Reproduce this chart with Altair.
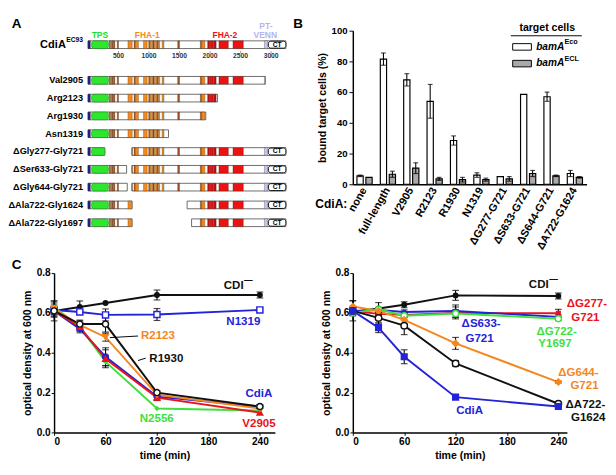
import altair as alt
import pandas as pd

FONT = "Liberation Sans, Arial, Helvetica, sans-serif"

# ================= Panel A : domain maps =================
a_names = ["CdiA", "Val2905", "Arg2123", "Arg1930", "Asn1319",
           "\u0394Gly277-Gly721", "\u0394Ser633-Gly721", "\u0394Gly644-Gly721",
           "\u0394Ala722-Gly1624", "\u0394Ala722-Gly1697"]
a_rows = [0, 2, 3, 4, 5, 6, 7, 8, 9, 10]
a_seg_start = [[1], [1], [1], [1], [1], [1, 721], [1, 721], [1, 721], [1, 1624], [1, 1697]]
a_seg_end = [[3242], [2905], [2123], [1930], [1319], [277, 3242], [633, 3242],
             [644, 3242], [722, 3242], [722, 3242]]

a_feat_start = [1, 60, 350, 372, 396, 420, 480, 655, 756, 780, 910, 995, 1018, 1066, 1088,
                1134, 1156, 1215, 1470, 1840, 1865, 1960, 2000, 2055, 2145, 2375, 2890]
a_feat_end = [40, 335, 366, 390, 414, 440, 500, 725, 775, 827, 970, 1012, 1060, 1082, 1128,
              1150, 1175, 1245, 1500, 1860, 1915, 1995, 2050, 2100, 2300, 2545, 2940]
a_feat_kind = ["navy", "green", "brown", "orange", "brown", "brown", "brown", "orange", "brown",
               "orange", "orange", "brown", "orange", "brown", "orange", "brown", "orange",
               "orange", "brown", "brown", "orange", "darkred", "red", "darkred", "red", "red",
               "lavender"]
a_palette = {"navy": "#1f1f8f", "green": "#2ee62e", "brown": "#a0501e", "orange": "#f28a1e",
             "darkred": "#b3121a", "red": "#ee1111", "lavender": "#c6c6f0"}
a_ct = [2955, 3242]

a_headers = ["TPS", "FHA-1", "FHA-2", "PT-", "VENN"]
a_header_x = [195, 971, 2243, 2915, 2905]
a_header_r = [-0.53, -0.53, -0.53, -1.06, -0.52]
a_header_col = ["#22dd22", "#f28a1e", "#ee1111", "#b4b4ee", "#b4b4ee"]

a_ticks = [500, 1000, 1500, 2000, 2500, 3000]

HALF = 0.216
out_rows, feat_rows, ct_rows = [], [], []
for name, r, ss, ee in zip(a_names, a_rows, a_seg_start, a_seg_end):
    for s, e in zip(ss, ee):
        out_rows.append(dict(s=s, e=e, y0=r - HALF, y1=r + HALF))
        for fs, fe, fk in zip(a_feat_start, a_feat_end, a_feat_kind):
            lo, hi = max(s, fs), min(e, fe)
            if hi > lo:
                feat_rows.append(dict(s=lo, e=hi, y0=r - HALF, y1=r + HALF,
                                      c=a_palette[fk], g=(fk == "green")))
        if s <= a_ct[0] and e >= a_ct[1]:
            ct_rows.append(dict(s=a_ct[0], e=a_ct[1], y0=r - HALF + 0.02, y1=r + HALF - 0.02,
                                xm=(a_ct[0] + a_ct[1]) / 2, r=r))
df_out = pd.DataFrame(out_rows)
df_feat = pd.DataFrame(feat_rows)
df_ct = pd.DataFrame(ct_rows)
df_lab = pd.DataFrame({"name": a_names[1:], "r": a_rows[1:], "x": [-80] * 9})
df_head = pd.DataFrame({"t": a_headers, "x": a_header_x, "r": a_header_r, "c": a_header_col})
df_tick = pd.DataFrame({"x": a_ticks, "lab": [str(v) for v in a_ticks]})

A_X = alt.Scale(domain=[-555, 3447], nice=False, zero=False)
A_Y = alt.Scale(domain=[-0.787, 7.84], reverse=True, nice=False, zero=False)


def ax(f):
    return alt.X(f, scale=A_X, axis=None)


def ay(f):
    return alt.Y(f, scale=A_Y, axis=None)


a_outline = alt.Chart(df_out).mark_rect(fill="white", stroke="#444444", strokeWidth=0.8).encode(
    x=ax("s:Q"), x2="e:Q", y=ay("y0:Q"), y2="y1:Q")
a_feat = alt.Chart(df_feat[~df_feat.g]).mark_rect(stroke="#3a2510", strokeWidth=0.3).encode(
    x=ax("s:Q"), x2="e:Q", y=ay("y0:Q"), y2="y1:Q", fill=alt.Fill("c:N", scale=None))
a_green = alt.Chart(df_feat[df_feat.g]).mark_rect(stroke="#169016", strokeWidth=0.6,
                                                  cornerRadius=2.5).encode(
    x=ax("s:Q"), x2="e:Q", y=ay("y0:Q"), y2="y1:Q", fill=alt.Fill("c:N", scale=None))
a_ctbox = alt.Chart(df_ct).mark_rect(fill="white", stroke="black", strokeWidth=1,
                                     cornerRadius=2.5).encode(
    x=ax("s:Q"), x2="e:Q", y=ay("y0:Q"), y2="y1:Q")
a_cttext = alt.Chart(df_ct).mark_text(text="CT", font=FONT, fontWeight="bold", fontSize=7,
                                      baseline="middle").encode(x=ax("xm:Q"), y=ay("r:Q"))
a_labels = alt.Chart(df_lab).mark_text(align="right", baseline="middle", font=FONT,
                                       fontWeight="bold", fontSize=9.6).encode(
    x=ax("x:Q"), y=ay("r:Q"), text="name:N")
a_cdia = alt.Chart(pd.DataFrame({"t": ["CdiA"], "x": [-362], "r": [0.05]})).mark_text(
    align="right", baseline="middle", font=FONT, fontWeight="bold", fontSize=11.5).encode(
    x=ax("x:Q"), y=ay("r:Q"), text="t:N")
a_sup = alt.Chart(pd.DataFrame({"t": ["EC93"], "x": [-355], "r": [-0.25]})).mark_text(
    align="left", baseline="middle", font=FONT, fontWeight="bold", fontSize=7).encode(
    x=ax("x:Q"), y=ay("r:Q"), text="t:N")
a_head = alt.Chart(df_head).mark_text(baseline="middle", font=FONT, fontWeight="bold",
                                      fontSize=8.8).encode(
    x=ax("x:Q"), y=ay("r:Q"), text="t:N", color=alt.Color("c:N", scale=None))
a_tickmarks = alt.Chart(df_tick.assign(r0=0.36, r1=0.48)).mark_rule(
    color="#555555", strokeWidth=0.6).encode(x=ax("x:Q"), y=ay("r0:Q"), y2="r1:Q")
a_ticklabs = alt.Chart(df_tick.assign(r=0.66)).mark_text(
    baseline="middle", font=FONT, fontWeight="bold", fontSize=7, color="#333333").encode(
    x=ax("x:Q"), y=ay("r:Q"), text="lab:N")
a_letter = alt.Chart(pd.DataFrame({"t": ["A"]})).mark_text(
    font=FONT, fontWeight="bold", fontSize=14, baseline="middle").encode(
    x=alt.value(-39), y=alt.value(-6.8), text="t:N")

panel_a = alt.layer(a_outline, a_feat, a_green, a_ctbox, a_cttext, a_labels, a_cdia, a_sup,
                    a_head, a_tickmarks, a_ticklabs, a_letter).properties(width=254.5, height=160)

# ================= Panel B : binding bar chart =================
b_cats = ["none", "full-length", "V2905", "R2123", "R1930", "N1319",
          "\u0394G277-G721", "\u0394S633-G721", "\u0394S644-G721", "\u0394A722-G1624"]
b_eco = [5.5, 81.5, 68, 54, 28.5, 6, 5, 58.5, 57, 7]
b_eco_err = [0.5, 4, 4, 11, 3, 1.5, 0, 0, 3, 2]
b_ecl = [4.5, 6.5, 10.5, 3.5, 3, 3, 3.5, 7, 5.5, 4.5]
b_ecl_err = [0, 2, 3.5, 1, 1.5, 1, 1.5, 2, 0.5, 0.5]
b_yticks = [0, 20, 40, 60, 80, 100]

b_df = pd.DataFrame({
    "cat": b_cats * 2,
    "series": ["Eco"] * len(b_cats) + ["ECL"] * len(b_cats),
    "v": b_eco + b_ecl,
    "err": b_eco_err + b_ecl_err,
})
b_df["lo"] = b_df.v - b_df.err
b_df["hi"] = b_df.v + b_df.err
b_err = b_df[b_df.err > 0]

xB = alt.X("cat:N", sort=b_cats, scale=alt.Scale(paddingInner=0.35, paddingOuter=0.176),
           axis=alt.Axis(title="CdiA:", titleX=-22.9, titleY=20.3, titleAngle=0,
                         titleAlign="center", titleBaseline="middle", titleFontSize=12.5,
                         labelAngle=-60, labelFontSize=11.3, ticks=False, labelPadding=4,
                         labelOverlap=False, domainWidth=1.5))
xoB = alt.XOffset("series:N", sort=["Eco", "ECL"],
                  scale=alt.Scale(paddingInner=0.3, paddingOuter=0))
yB_scale = alt.Scale(domain=[0, 100], nice=False, zero=True)
yB_axis = alt.Axis(values=b_yticks, tickCount=6, title="bound target cells (%)",
                   labelFontSize=10, titleFontSize=11, tickSize=4, labelPadding=2,
                   labelOverlap=False, labelFlush=False, titlePadding=4, domainWidth=1.5)


def yb(field):
    return alt.Y(field, scale=yB_scale, axis=yB_axis)


b_bars = alt.Chart(b_df).mark_bar(stroke="black", strokeWidth=1.2).encode(
    x=xB, xOffset=xoB, y=yb("v:Q"),
    fill=alt.Fill("series:N", scale=alt.Scale(domain=["Eco", "ECL"], range=["white", "#a9a9a9"]),
                  legend=None))
b_rule = alt.Chart(b_err).mark_rule(color="black", strokeWidth=1.1).encode(
    x=xB, xOffset=xoB, y=yb("lo:Q"), y2="hi:Q")
b_cap_hi = alt.Chart(b_err).mark_tick(color="black", size=5, thickness=1.2).encode(
    x=xB, xOffset=xoB, y=yb("hi:Q"))
b_cap_lo = alt.Chart(b_err).mark_tick(color="black", size=5, thickness=1.2).encode(
    x=xB, xOffset=xoB, y=yb("lo:Q"))

one = pd.DataFrame({"k": [0]})
b_leg_title = alt.Chart(one).mark_text(text="target cells", font=FONT, fontWeight="bold",
                                       fontSize=11, baseline="middle").encode(
    x=alt.value(202.5), y=alt.value(-2.9))
b_leg_line = alt.Chart(one).mark_rule(color="black", strokeWidth=1).encode(
    x=alt.value(164.5), x2=alt.value(238.5), y=alt.value(5.3))
b_leg_box1 = alt.Chart(one).mark_rect(fill="white", stroke="black", strokeWidth=1).encode(
    x=alt.value(166.5), x2=alt.value(186), y=alt.value(13.5), y2=alt.value(20.3))
b_leg_box2 = alt.Chart(one).mark_rect(fill="#a9a9a9", stroke="black", strokeWidth=1).encode(
    x=alt.value(166.5), x2=alt.value(186), y=alt.value(30.9), y2=alt.value(37.7))
b_leg_t1 = alt.Chart(one).mark_text(text="bamA", font=FONT, fontWeight="bold",
                                    fontStyle="italic", fontSize=10.5, align="left",
                                    baseline="middle").encode(x=alt.value(191), y=alt.value(16.9))
b_leg_t2 = alt.Chart(one).mark_text(text="bamA", font=FONT, fontWeight="bold",
                                    fontStyle="italic", fontSize=10.5, align="left",
                                    baseline="middle").encode(x=alt.value(191), y=alt.value(34.3))
b_leg_s1 = alt.Chart(one).mark_text(text="Eco", font=FONT, fontWeight="bold", fontSize=7.5,
                                    align="left", baseline="middle").encode(
    x=alt.value(220.5), y=alt.value(12))
b_leg_s2 = alt.Chart(one).mark_text(text="ECL", font=FONT, fontWeight="bold", fontSize=7.5,
                                    align="left", baseline="middle").encode(
    x=alt.value(220.5), y=alt.value(29.4))
b_letter = alt.Chart(pd.DataFrame({"t": ["B"]})).mark_text(
    font=FONT, fontWeight="bold", fontSize=14, baseline="middle").encode(
    x=alt.value(-57), y=alt.value(-6.8), text="t:N")

panel_b = alt.layer(b_bars, b_rule, b_cap_hi, b_cap_lo, b_leg_title, b_leg_line, b_leg_box1,
                    b_leg_box2, b_leg_t1, b_leg_t2, b_leg_s1, b_leg_s2, b_letter).properties(
    width=243.5, height=160)

# ================= Panel C : growth curves =================
c_time = [0, 30, 60, 120, 240]

BLACK, BLUE, ORANGE, RED, GREEN = "#111111", "#2323d8", "#f5861f", "#e8141b", "#3de03d"

c1_series = ["CDI-", "N1319", "N2556", "CdiA", "V2905", "R2123", "R1930"]
c1_values = [
    [0.61, 0.63, 0.65, 0.69, 0.69],
    [0.615, 0.605, 0.59, 0.592, 0.615],
    [0.63, 0.53, 0.355, 0.12, 0.11],
    [0.61, 0.52, 0.38, 0.18, 0.13],
    [0.61, 0.53, 0.37, 0.175, 0.10],
    [0.62, 0.54, 0.478, 0.19, 0.12],
    [0.61, 0.544, 0.544, 0.20, 0.13],
]
c1_errors = [
    [0.02, 0.03, 0, 0.025, 0.015],
    [0.01, 0.01, 0.03, 0.03, 0.01],
    [0.02, 0.02, 0.02, 0, 0],
    [0.03, 0.02, 0.045, 0.02, 0.01],
    [0.02, 0.02, 0.045, 0.01, 0],
    [0.04, 0.02, 0.02, 0, 0],
    [0.05, 0.02, 0.04, 0.01, 0.01],
]
c1_colors = [BLACK, BLUE, GREEN, BLUE, RED, ORANGE, BLACK]
c1_shapes = ["circle", "square", "diamond", "circle", "triangle-up", "triangle-down", "circle"]
c1_fills = [BLACK, "white", GREEN, BLUE, RED, ORANGE, "white"]
c1_sizes = [22, 40, 12, 35, 35, 35, 40]

c1_ann_text = ["CDI", "\u2014", "N1319", "R2123", "R1930", "CdiA", "N2556", "V2905"]
c1_ann_t = [209.5, 226.5, 220.7, 121.1, 130.9, 238.8, 119.7, 239]
c1_ann_od = [0.738, 0.765, 0.557, 0.486, 0.373, 0.199, 0.07, 0.047]
c1_ann_col = [BLACK, BLACK, BLUE, ORANGE, BLACK, BLUE, GREEN, RED]
c1_ann_size = [12, 9, 12, 12, 12, 12, 12, 12]

c1_lead_t = [65.1, 97.9]
c1_lead_t2 = [97.9, 106.9]
c1_lead_od = [0.476, 0.361]
c1_lead_od2 = [0.484, 0.373]

c2_series = ["CDI-", "\u0394G277-G721", "\u0394S633-G721", "\u0394G722-Y1697",
             "\u0394G644-G721", "\u0394A722-G1624", "CdiA"]
c2_values = [
    [0.605, 0.622, 0.641, 0.688, 0.685],
    [0.61, 0.595, 0.59, 0.60, 0.598],
    [0.61, 0.615, 0.605, 0.61, 0.58],
    [0.60, 0.618, 0.586, 0.597, 0.571],
    [0.632, 0.61, 0.565, 0.447, 0.253],
    [0.61, 0.575, 0.536, 0.346, 0.144],
    [0.61, 0.526, 0.38, 0.177, 0.13],
]
c2_errors = [
    [0.02, 0.03, 0.015, 0.025, 0.015],
    [0.02, 0.01, 0.01, 0.03, 0.02],
    [0.01, 0.01, 0.01, 0.03, 0.01],
    [0.01, 0.01, 0.01, 0.02, 0.01],
    [0.03, 0.01, 0.02, 0.03, 0.005],
    [0.05, 0.03, 0.045, 0.015, 0.005],
    [0.02, 0.025, 0.035, 0.01, 0.005],
]
c2_colors = [BLACK, RED, BLUE, GREEN, ORANGE, BLACK, BLUE]
c2_shapes = ["circle", "square", "circle", "circle", "diamond", "circle", "square"]
c2_fills = [BLACK, RED, BLUE, "white", ORANGE, "white", BLUE]
c2_sizes = [22, 14, 14, 40, 40, 45, 35]

c2_ann_text = ["CDI", "\u2014", "\u0394G277-", "G721", "\u0394S633-", "G721", "\u0394G722-", "Y1697",
               "\u0394G644-", "G721", "\u0394A722-", "G1624", "CdiA"]
c2_ann_t = [217.1, 234.5, 273.4, 271.6, 149.8, 148, 238, 236.1, 263.4, 270.5, 271.6, 274.9, 136.4]
c2_ann_od = [0.746, 0.768, 0.649, 0.581, 0.55, 0.471, 0.51, 0.447, 0.301, 0.239, 0.141, 0.075, 0.11]
c2_ann_col = [BLACK, BLACK, RED, RED, BLUE, BLUE, GREEN, GREEN, ORANGE, ORANGE, BLACK, BLACK, BLUE]
c2_ann_size = [12, 9, 12, 12, 12, 12, 12, 12, 12, 12, 12, 12, 12]


def c_panel(series, values, errors, colors, shapes, fills, sizes, ann_text, ann_t, ann_od,
            ann_col, ann_size, xmax, width, leaders=None, letter=False):
    rows = []
    for i, s in enumerate(series):
        for t, v, e in zip(c_time, values[i], errors[i]):
            rows.append(dict(s=s, k=i, t=t, od=v, lo=v - e, hi=v + e, e=e, col=colors[i],
                             shp=shapes[i], fil=fills[i], sz=sizes[i]))
    df = pd.DataFrame(rows)
    xs = alt.Scale(domain=[0, xmax], nice=False, zero=False)
    ys = alt.Scale(domain=[0, 0.8], nice=False, zero=False)
    x_axis = alt.Axis(values=[0, 60, 120, 180, 240], title="time (min)",
                      labelFontSize=10.5, titleFontSize=11, tickSize=3,
                      labelPadding=2, titlePadding=3, domainWidth=1.5, labelOverlap=False)
    y_axis = alt.Axis(values=[0, 0.2, 0.4, 0.6, 0.8], format=".1f",
                      title="optical density at 600 nm", labelFontSize=10.5, titleFontSize=11,
                      tickSize=3, labelPadding=1, titlePadding=4, domainWidth=1.5,
                      labelOverlap=False)

    def X(f="t:Q"):
        return alt.X(f, scale=xs, axis=x_axis)

    def Y(f="od:Q"):
        return alt.Y(f, scale=ys, axis=y_axis)

    lines = alt.Chart(df).mark_line(strokeWidth=2).encode(
        x=X(), y=Y(), color=alt.Color("col:N", scale=None), detail="k:N", order="t:Q")
    errs = df[df.e > 0]
    rule = alt.Chart(errs).mark_rule(color="black", strokeWidth=1.1).encode(
        x=X(), y=Y("lo:Q"), y2="hi:Q")
    cap1 = alt.Chart(errs).mark_tick(color="black", size=7, thickness=1.2,
                                     orient="horizontal").encode(x=X(), y=Y("hi:Q"))
    cap2 = alt.Chart(errs).mark_tick(color="black", size=7, thickness=1.2,
                                     orient="horizontal").encode(x=X(), y=Y("lo:Q"))
    pts = alt.Chart(df).mark_point(filled=True, strokeWidth=1.5, opacity=1, fillOpacity=1).encode(
        x=X(), y=Y(), shape=alt.Shape("shp:N", scale=None), fill=alt.Fill("fil:N", scale=None),
        stroke=alt.Stroke("col:N", scale=None), size=alt.Size("sz:Q", scale=None))
    adf = pd.DataFrame({"txt": ann_text, "t": ann_t, "od": ann_od, "c": ann_col, "fs": ann_size})
    ann = alt.Chart(adf).mark_text(font=FONT, fontWeight="bold", baseline="middle").encode(
        x=X(), y=Y(), text="txt:N", color=alt.Color("c:N", scale=None),
        size=alt.Size("fs:Q", scale=None))
    layers = [lines, rule, cap1, cap2, pts, ann]
    if leaders is not None:
        ldf = pd.DataFrame({"t": leaders[0], "t2": leaders[1], "od": leaders[2], "od2": leaders[3]})
        layers.append(alt.Chart(ldf).mark_rule(color="black", strokeWidth=1).encode(
            x=X(), x2="t2:Q", y=Y(), y2="od2:Q"))
    if letter:
        layers.append(alt.Chart(pd.DataFrame({"t": ["C"]})).mark_text(
            font=FONT, fontWeight="bold", fontSize=14, baseline="middle").encode(
            x=alt.value(-39), y=alt.value(-8), text="t:N"))
    return alt.layer(*layers).properties(width=width, height=166)


panel_c1 = c_panel(c1_series, c1_values, c1_errors, c1_colors, c1_shapes, c1_fills, c1_sizes,
                   c1_ann_text, c1_ann_t, c1_ann_od, c1_ann_col, c1_ann_size, 257.5, 230,
                   leaders=(c1_lead_t, c1_lead_t2, c1_lead_od, c1_lead_od2), letter=True)
panel_c2 = c_panel(c2_series, c2_values, c2_errors, c2_colors, c2_shapes, c2_fills, c2_sizes,
                   c2_ann_text, c2_ann_t, c2_ann_od, c2_ann_col, c2_ann_size, 250, 223)

chart = alt.concat(
    panel_a, panel_b, panel_c1, panel_c2,
    columns=2, bounds="flush",
    align={"row": "all", "column": "none"},
    spacing={"row": 86.5, "column": 56.2},
).properties(
    padding=0
).configure_view(stroke=None).configure_axis(
    labelFont=FONT, titleFont=FONT, labelFontWeight="bold", titleFontWeight="bold",
    labelColor="black", titleColor="black", domainColor="black", tickColor="black",
    grid=False
)

chart.save("out.html", embed_options={"renderer": "svg", "actions": False})
